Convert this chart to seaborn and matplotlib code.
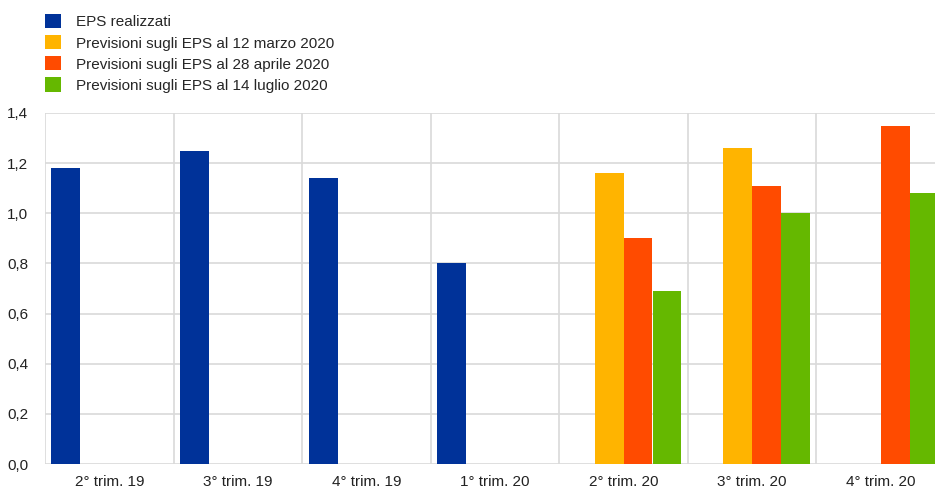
import numpy as np
import pandas as pd
import matplotlib
matplotlib.use("Agg")
import matplotlib.pyplot as plt
from matplotlib.patches import Patch
from matplotlib.ticker import FuncFormatter, MultipleLocator
import seaborn as sns

categories = ["2° trim. 19", "3° trim. 19", "4° trim. 19", "1° trim. 20",
              "2° trim. 20", "3° trim. 20", "4° trim. 20"]
series_names = ["EPS realizzati",
                "Previsioni sugli EPS al 12 marzo 2020",
                "Previsioni sugli EPS al 28 aprile 2020",
                "Previsioni sugli EPS al 14 luglio 2020"]
eps_realizzati = [1.18, 1.25, 1.14, 0.80, np.nan, np.nan, np.nan]
prev_12_marzo = [np.nan, np.nan, np.nan, np.nan, 1.16, 1.26, np.nan]
prev_28_aprile = [np.nan, np.nan, np.nan, np.nan, 0.90, 1.11, 1.35]
prev_14_luglio = [np.nan, np.nan, np.nan, np.nan, 0.69, 1.00, 1.08]
colors = ["#003299", "#FFB400", "#FF4B00", "#65B800"]

rows = []
for name, vals in zip(series_names, [eps_realizzati, prev_12_marzo, prev_28_aprile, prev_14_luglio]):
    for c, v in zip(categories, vals):
        rows.append({"cat": c, "serie": name, "val": v})
df = pd.DataFrame(rows)

sns.set_theme(style="white")
plt.rcParams['font.family'] = ['Liberation Sans', 'DejaVu Sans']

fig = plt.figure(figsize=(9.35, 4.91), dpi=100)
ax = fig.add_axes([45/935, 1-464/491, 900/935, 351/491])

sns.barplot(data=df, x="cat", y="val", hue="serie", order=categories,
            hue_order=series_names, palette=colors, errorbar=None,
            width=0.9, dodge=True, ax=ax, legend=False, saturation=1,
            linewidth=0)

ax.set_xlim(-0.5, len(categories) - 0.5)
ax.set_ylim(0, 1.4)
ax.yaxis.set_major_locator(MultipleLocator(0.2))
ax.yaxis.set_major_formatter(FuncFormatter(lambda v, p: f"{v:.1f}".replace(".", ",")))
ax.set_xticks(np.arange(-0.5, len(categories), 1.0), minor=True)
ax.grid(axis="y", which="major", color="#d9d9d9", linewidth=1.2)
ax.grid(axis="x", which="minor", color="#d9d9d9", linewidth=1.2)
ax.set_axisbelow(True)
for s in ax.spines.values():
    s.set_visible(False)
ax.tick_params(axis="both", which="both", length=0, labelsize=11, colors="#222222")
ax.tick_params(axis="y", pad=12)
ax.tick_params(axis="x", pad=8)
ax.set_xlabel("")
ax.set_ylabel("")

handles = [Patch(facecolor=c, edgecolor="none") for c in colors]
fig.legend(handles, series_names, loc="upper left",
           bbox_to_anchor=(39/935, 1-8/491), frameon=False,
           fontsize=11, handlelength=1.05, handleheight=1.05,
           handletextpad=0.95, labelspacing=0.38, borderaxespad=0)

fig.savefig("out.png", dpi=100)
